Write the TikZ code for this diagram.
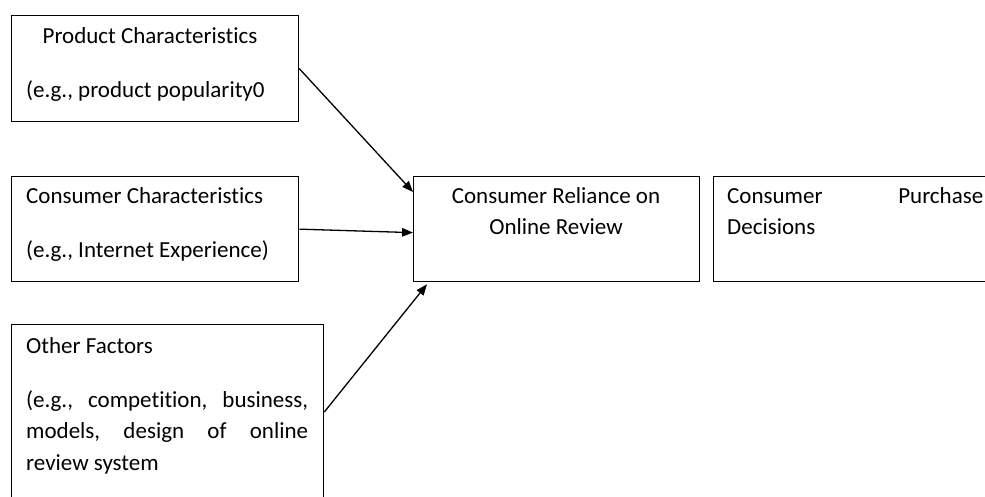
\documentclass[tikz,border=0pt]{standalone}
\usepackage{fontspec}
\setmainfont{Carlito}[Ligatures={NoCommon}]
\usetikzlibrary{arrows.meta,calc}
\tikzset{
  box/.style={draw=black,line width=1.3pt,rectangle,inner sep=0pt,anchor=north west},
  txt/.style={anchor=base west,inner sep=0pt,font=\fontsize{23}{31}\selectfont,text=black},
  ctxt/.style={anchor=base,inner sep=0pt,font=\fontsize{23}{31}\selectfont,text=black},
  arr/.style={line width=1.3pt,-{Triangle[length=11pt,width=8.5pt]}}
}
\begin{document}
\begin{tikzpicture}[x=1pt,y=-1pt]
\clip (0,0) rectangle (985,497);
\fill[white] (0,0) rectangle (985,497);
% boxes
\node[box,minimum width=287pt,minimum height=106pt] (b1) at (11,15) {};
\node[box,minimum width=287pt,minimum height=105pt] (b2) at (11,176) {};
\node[box,minimum width=312pt,minimum height=200pt] (b3) at (11,324) {};
\node[box,minimum width=286pt,minimum height=105pt] (b4) at (413,176) {};
\node[box,minimum width=300pt,minimum height=105pt] (b5) at (713,176) {};
% texts
\node[ctxt] (t1a) at (150,44) {Product Characteristics};
\node[txt] (t1b) at (26,98) {(e.g., product popularity0};
\node[txt] (t2a) at (26,204) {Consumer Characteristics};
\node[txt] (t2b) at (26,258) {(e.g., Internet Experience)};
\node[txt] (t3a) at (26,353) {Other Factors};
\node[txt] (t3b) at (26,407) {\hbox to 282pt{(e.g.,\hfill competition,\hfill business,}};
\node[txt] (t3c) at (26,438) {\hbox to 282pt{models,\hfill design\hfill of\hfill online}};
\node[txt] (t3d) at (26,470) {review system};
\node[ctxt] (t4a) at (556,204) {Consumer Reliance on};
\node[ctxt] (t4b) at (556,235) {Online Review};
\node[txt] (t5a) at (727,204) {\hbox to 256pt{Consumer\hfill Purchase}};
\node[txt] (t5b) at (727,235) {Decisions};
% arrows
\draw[arr] (b1.east) -- ($(b4.north west)+(0,16)$);
\draw[arr] (b2.east) -- ($(b4.west)+(0,3.5)$);
\draw[arr] ($(b3.north east)+(0,88)$) -- ($(b4.south west)+(14,2)$);
\end{tikzpicture}
\end{document}
